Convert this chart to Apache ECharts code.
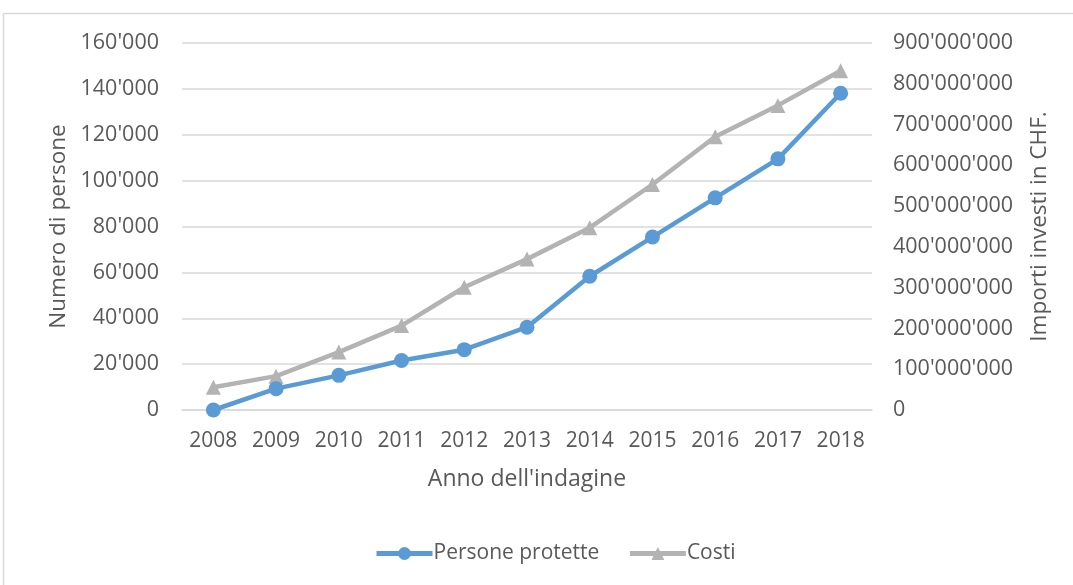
<!DOCTYPE html>
<html>
<head>
<meta charset="utf-8">
<script src="https://cdn.jsdelivr.net/npm/echarts@6/dist/echarts.min.js"></script>
<style>
  html, body { margin: 0; padding: 0; background: #fff; }
  #chart { width: 1073px; height: 585px; }
</style>
</head>
<body>
<div id="chart"></div>
<script>
// dati
const anni = ['2008', '2009', '2010', '2011', '2012', '2013', '2014', '2015', '2016', '2017', '2018'];
const personeProtette = [0, 9300, 15100, 21600, 26300, 36100, 58300, 75400, 92500, 109500, 138100];
const costi = [56000000, 83000000, 142000000, 207000000, 301000000, 370000000, 447000000, 553000000, 670000000, 747000000, 832000000];
const tickPersone = [0, 20000, 40000, 60000, 80000, 100000, 120000, 140000, 160000];
const tickCosti = [0, 100000000, 200000000, 300000000, 400000000, 500000000, 600000000, 700000000, 800000000, 900000000];

const grigio = '#595959';
const font = '"Open Sans", "Noto Sans", sans-serif';

// separatore delle migliaia con apostrofo
function fmt(v) {
  return String(Math.round(v)).replace(/\B(?=(\d{3})+(?!\d))/g, "'");
}

const chart = echarts.init(document.getElementById('chart'));
const option = {
  backgroundColor: '#fff',
  textStyle: { fontFamily: font },
  animation: false,
  graphic: [{
    type: 'rect',
    shape: { x: 3.5, y: 13.5, width: 1200, height: 700 },
    style: { fill: 'none', stroke: '#d9d9d9', lineWidth: 1.5 },
    silent: true
  }],
  grid: { left: 182, right: 201, top: 43, bottom: 175 },
  legend: {
    bottom: 16,
    left: 369,
    itemWidth: 56,
    itemHeight: 16,
    itemGap: 28,
    lineStyle: { width: 5 },
    textStyle: { color: grigio, fontSize: 21, fontFamily: font, padding: [0, 0, 0, -4] },
    data: ['Persone protette', 'Costi']
  },
  xAxis: {
    type: 'category',
    data: anni,
    boundaryGap: true,
    name: "Anno dell'indagine",
    nameLocation: 'middle',
    nameGap: 58,
    nameTextStyle: { color: grigio, fontSize: 23, fontFamily: font },
    axisLine: { lineStyle: { color: '#d9d9d9', width: 1.5 } },
    axisTick: { show: false },
    axisLabel: { color: grigio, fontSize: 21, margin: 21, interval: 0, fontFamily: font }
  },
  yAxis: [{
    type: 'value',
    min: tickPersone[0],
    max: tickPersone[tickPersone.length - 1],
    interval: tickPersone[1] - tickPersone[0],
    name: 'Numero di persone',
    nameLocation: 'middle',
    nameGap: 110,
    nameTextStyle: { color: grigio, fontSize: 22.5, fontFamily: font },
    axisLine: { show: false },
    axisTick: { show: false },
    splitLine: { lineStyle: { color: '#d9d9d9', width: 1.5 } },
    axisLabel: { color: grigio, fontSize: 21.5, margin: 23, fontFamily: font, formatter: fmt }
  }, {
    type: 'value',
    min: tickCosti[0],
    max: tickCosti[tickCosti.length - 1],
    interval: tickCosti[1] - tickCosti[0],
    name: 'Importi investi in CHF.',
    nameLocation: 'middle',
    nameGap: 156,
    nameRotate: 90,
    nameTextStyle: { color: grigio, fontSize: 22.5, fontFamily: font },
    axisLine: { show: false },
    axisTick: { show: false },
    splitLine: { show: false },
    axisLabel: { color: grigio, fontSize: 21.5, margin: 21, fontFamily: font, formatter: fmt }
  }],
  series: [{
    name: 'Costi',
    type: 'line',
    yAxisIndex: 1,
    data: costi,
    symbol: 'triangle',
    symbolSize: 15,
    z: 2,
    itemStyle: { color: '#b3b3b3' },
    lineStyle: { color: '#b3b3b3', width: 4.5 }
  }, {
    name: 'Persone protette',
    type: 'line',
    yAxisIndex: 0,
    data: personeProtette,
    symbol: 'circle',
    symbolSize: 15,
    z: 3,
    itemStyle: { color: '#5b9bd5' },
    lineStyle: { color: '#5b9bd5', width: 4.5 }
  }]
};
chart.setOption(option);
</script>
</body>
</html>
